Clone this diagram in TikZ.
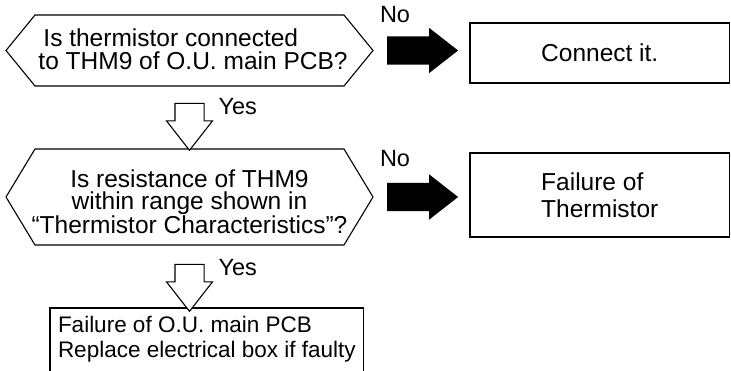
\documentclass[tikz,border=0pt]{standalone}
\usepackage{fontspec}
\setmainfont{Liberation Sans}
\usetikzlibrary{shapes.arrows}

\begin{document}
\begin{tikzpicture}[x=1pt,y=-1pt,
 every node/.style={inner sep=0pt,outer sep=0pt},
 hexa/.style={rectangle,minimum width=367pt,font=\fontsize{24.5}{22.6}\selectfont},
 frame/.style={line width=1.1pt,line join=miter},
 result/.style={rectangle,draw,line width=1.1pt,minimum width=259.5pt,font=\fontsize{24.5}{27}\selectfont},
 noarrow/.style={single arrow,fill=black,inner ysep=14pt,minimum height=71pt,minimum width=45pt,single arrow head extend=8.5pt,single arrow tip angle=76},
 yesarrow/.style={single arrow,draw,fill=white,line width=1.1pt,shape border rotate=270,inner xsep=14pt,minimum height=47pt,minimum width=45pt,single arrow head extend=8.5pt,single arrow tip angle=76},
 lbl/.style={font=\fontsize{23.5}{26}\selectfont}]
 \path[use as bounding box,clip] (0,0) rectangle (731,371);
 % questions
 \node[hexa,minimum height=71pt,align=left,text depth=3pt] (q1) at (189.5,50.5) {\hspace*{12pt}Is thermistor connected\\\hspace*{7pt}to THM9 of O.U. main PCB?};
 \draw[frame] (q1.west) -- ([xshift=29pt]q1.north west) -- ([xshift=-29pt]q1.north east) -- (q1.east) -- ([xshift=-29pt]q1.south east) -- ([xshift=29pt]q1.south west) -- cycle;
 \node[hexa,minimum height=96pt,align=center] (q2) at (189.5,197) {\rule{0pt}{27pt}Is resistance of THM9\\within range shown in\\“Thermistor Characteristics”?};
 \draw[frame] (q2.west) -- ([xshift=29pt]q2.north west) -- ([xshift=-29pt]q2.north east) -- (q2.east) -- ([xshift=-29pt]q2.south east) -- ([xshift=29pt]q2.south west) -- cycle;
 % results
 \node[result,minimum height=60pt] (c1) at (599.75,53) {Connect it.};
 \node[result,minimum height=84pt,align=left] (f1) at (599.75,195) {Failure of\\Thermistor};
 \node[draw,line width=1.1pt,anchor=north west,align=left,inner xsep=8pt,inner ysep=8pt,text depth=15pt,font=\fontsize{22.5}{25}\selectfont] (b1) at (50,308) {Failure of O.U. main PCB\\Replace electrical box if faulty};
 % no
 \path (q1.east) -- node[noarrow,xshift=-8pt] (na1) {} (q1.east -| c1.west);
 \path (q2.east) -- node[noarrow,xshift=-8pt] (na2) {} (q2.east -| f1.west);
 \node[lbl,anchor=base west] (no1) at ([xshift=-33.5pt,yshift=28pt]na1.center) {No};
 \node[lbl,anchor=base west] (no2) at ([xshift=-33.5pt,yshift=30pt]na2.center) {No};
 % yes
 \path (q1.south) -- node[yesarrow] (ya1) {} (q2.north);
 \path (q2.south) -- node[yesarrow,yshift=-2pt] (ya2) {} (q2.south |- b1.north);
 \node[lbl,anchor=base west] (yes1) at ([xshift=29pt,yshift=3pt]ya1.center) {Yes};
 \node[lbl,anchor=base west] (yes2) at ([xshift=29pt,yshift=2.5pt]ya2.center) {Yes};
\end{tikzpicture}
\end{document}
